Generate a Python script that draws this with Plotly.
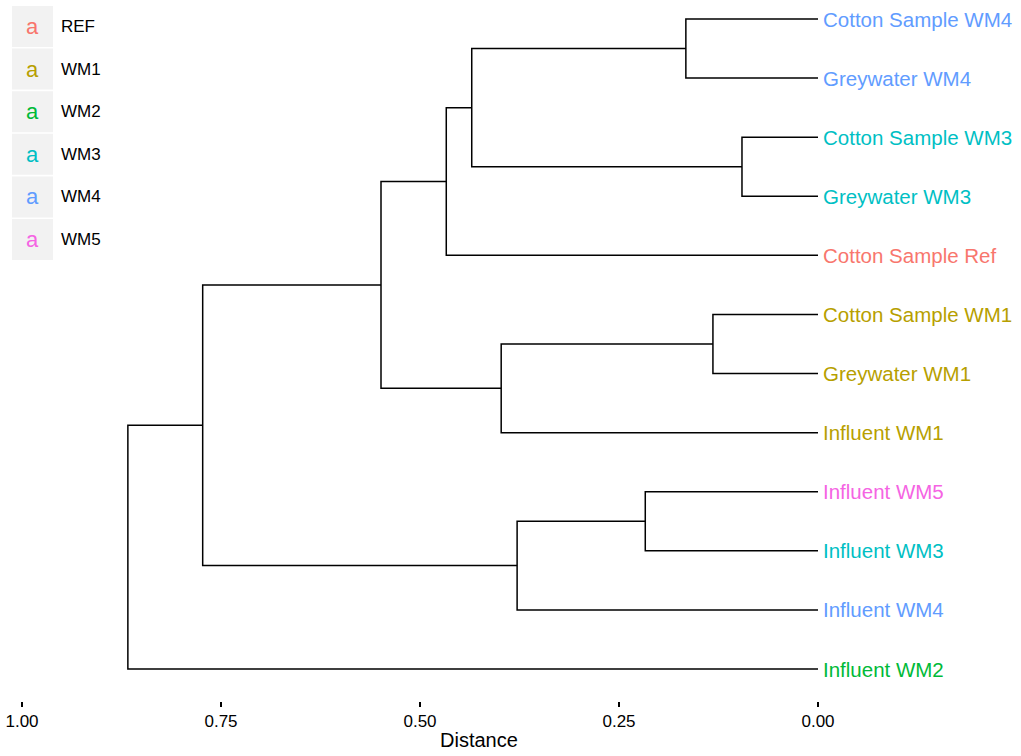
import plotly.graph_objects as go

# ---- data ----
leaf_labels = ["Cotton Sample WM4", "Greywater WM4", "Cotton Sample WM3", "Greywater WM3",
               "Cotton Sample Ref", "Cotton Sample WM1", "Greywater WM1", "Influent WM1",
               "Influent WM5", "Influent WM3", "Influent WM4", "Influent WM2"]
leaf_groups = ["WM4", "WM4", "WM3", "WM3", "REF", "WM1", "WM1", "WM1",
               "WM5", "WM3", "WM4", "WM2"]
# merges: (child_a, child_b, height); node ids continue after leaves (12, 13, ...)
merge_a = [2, 5, 0, 8, 15, 13, 14, 18, 19, 20, 21]
merge_b = [3, 6, 1, 9, 10, 7, 12, 4, 17, 16, 11]
merge_h = [0.0955, 0.132, 0.166, 0.217, 0.378, 0.398, 0.435, 0.467, 0.549, 0.773, 0.867]

group_names = ["REF", "WM1", "WM2", "WM3", "WM4", "WM5"]
group_colors = ["#F8766D", "#B79F00", "#00BA38", "#00BFC4", "#619CFF", "#F564E3"]
x_ticks = [1.00, 0.75, 0.50, 0.25, 0.00]
x_tick_text = ["1.00", "0.75", "0.50", "0.25", "0.00"]

# ---- build dendrogram segments ----
n = len(leaf_labels)
pos = {i: float(i) for i in range(n)}
hgt = {i: 0.0 for i in range(n)}
xs, ys = [], []
for k, (a, b, h) in enumerate(zip(merge_a, merge_b, merge_h)):
    node = n + k
    xs += [hgt[a], h, h, hgt[b], None]
    ys += [pos[a], pos[a], pos[b], pos[b], None]
    pos[node] = (pos[a] + pos[b]) / 2
    hgt[node] = h

W, H = 1021, 756
PLOT_H = 701
FONT = "Liberation Sans, Arial, Helvetica, sans-serif"

fig = go.Figure()
fig.add_trace(go.Scatter(x=xs, y=ys, mode="lines",
                         line=dict(color="black", width=1.5),
                         hoverinfo="skip", showlegend=False))

color_of = dict(zip(group_names, group_colors))
annotations = []
for i, (lab, g) in enumerate(zip(leaf_labels, leaf_groups)):
    annotations.append(dict(x=0, y=i, xref="x", yref="y", text=lab, showarrow=False,
                            xanchor="left", yanchor="middle", xshift=3,
                            font=dict(family=FONT, size=20.5, color=color_of[g])))

def px_x(p):
    return p / W

def px_y(p):
    return 1 - p / PLOT_H

shapes = []
box_top0, stride, box = 6, 42.6, 41
for j, (g, c) in enumerate(zip(group_names, group_colors)):
    t = box_top0 + j * stride
    shapes.append(dict(type="rect", xref="paper", yref="paper",
                       x0=px_x(12), x1=px_x(12 + box), y0=px_y(t + box), y1=px_y(t),
                       fillcolor="#F2F2F2", line=dict(width=0), layer="below"))
    cy = t + box / 2
    annotations.append(dict(x=px_x(12 + box / 2), y=px_y(cy), xref="paper", yref="paper",
                            text="a", showarrow=False, xanchor="center", yanchor="middle",
                            font=dict(family=FONT, size=22, color=c)))
    annotations.append(dict(x=px_x(59), y=px_y(cy), xref="paper", yref="paper",
                            text=g, showarrow=False, xanchor="left", yanchor="middle",
                            font=dict(family=FONT, size=17, color="black")))

annotations.append(dict(x=px_x(479), y=px_y(740), xref="paper", yref="paper",
                        text="Distance", showarrow=False, xanchor="center", yanchor="middle",
                        font=dict(family=FONT, size=20, color="black")))

fig.update_layout(
    width=W, height=H,
    margin=dict(l=0, r=0, t=0, b=H - PLOT_H, pad=0),
    plot_bgcolor="white", paper_bgcolor="white",
    annotations=annotations, shapes=shapes,
    xaxis=dict(range=[1 + 22 / 796, -(W - 818) / 796], tickvals=x_ticks, ticktext=x_tick_text,
               ticks="outside", ticklen=5, tickwidth=1.5, tickcolor="black",
               showgrid=False, zeroline=False, showline=False,
               tickfont=dict(family=FONT, size=17, color="black")),
    yaxis=dict(range=[11 + 32 / 59.09, -19 / 59.09], showticklabels=False, ticks="",
               showgrid=False, zeroline=False, showline=False),
)

fig.write_html("out.html", config={"displayModeBar": False},
               post_script="document.body.style.margin='0';")
